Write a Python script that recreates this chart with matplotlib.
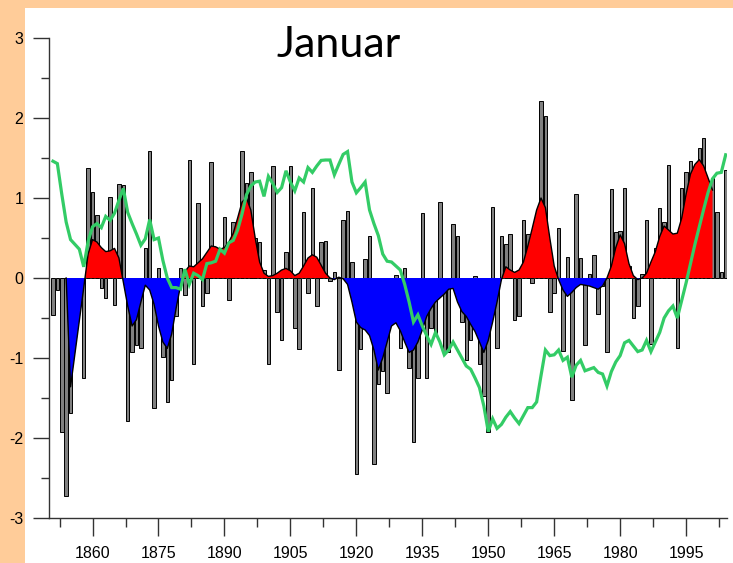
import numpy as np
import matplotlib
matplotlib.use("Agg")
import matplotlib.pyplot as plt
from matplotlib.patches import Rectangle
from matplotlib.ticker import MultipleLocator, FixedLocator

# yearly anomalies, 1851 .. 2004
anomaly = [
    -0.46, -0.15, -1.92, -2.73, -1.69, -0.60, -0.30, -1.25, 1.38, 1.07,   # 1851-1860
    0.79, -0.12, -0.25, 1.01, -0.34, 1.17, 1.16, -1.79, -0.92, -0.84,     # 1861-1870
    -0.87, 0.37, 1.59, -1.62, 0.12, -0.99, -1.55, -1.28, -0.47, 0.13,     # 1871-1880
    -0.21, 1.48, -1.08, 0.94, -0.35, -0.19, 1.45, 0.30, 0.30, 0.76,       # 1881-1890
    -0.28, 0.70, 0.50, 1.59, 1.19, 1.32, 0.50, 0.45, 0.10, -1.08,         # 1891-1900
    1.40, -0.43, -0.78, 0.33, 1.40, -0.62, -0.89, 0.83, -0.19, 1.13,      # 1901-1910
    -0.35, 0.45, 0.46, -0.04, 0.07, -1.15, 0.72, 0.84, 0.20, -2.45,       # 1911-1920
    -0.89, 0.24, 0.52, -2.33, -1.33, -1.16, -1.44, -0.50, 0.04, -0.88,    # 1921-1930
    0.12, -1.13, -2.05, -1.25, 0.81, -1.25, -0.63, -0.69, 0.95, -0.93,    # 1931-1940
    -0.92, 0.68, 0.52, -0.55, -1.02, -0.77, 0.03, -1.07, -1.48, -1.92,    # 1941-1950
    0.89, -0.87, 0.52, 0.42, 0.55, -0.52, -0.47, 0.72, 0.55, -0.06,       # 1951-1960
    0.50, 2.21, 2.03, -0.43, -0.19, 0.63, -0.91, 0.26, -1.53, 1.05,       # 1961-1970
    0.25, -0.84, 0.05, 0.29, -0.45, -0.10, -0.92, 1.11, 0.58, 0.59,       # 1971-1980
    1.12, 0.15, -0.50, -0.35, 0.05, 0.73, -0.82, 0.38, 0.87, 0.70,        # 1981-1990
    1.41, 0.40, -0.87, 1.13, 1.33, 1.46, 1.25, 1.62, 1.75, 0.90,          # 1991-2000
    1.25, 0.83, 0.08, 1.35,                                               # 2001-2004
]
first_year = 1851

# low-pass curve, 1854 .. 2001
smooth = [
    0.00, -1.36, -0.95, -0.54, -0.12, 0.30, 0.48,                         # 1854-1860
    0.45, 0.38, 0.33, 0.34, 0.37, 0.25, -0.05, -0.35, -0.60, -0.52,       # 1861-1870
    -0.30, -0.09, -0.15, -0.33, -0.60, -0.80, -0.88, -0.70, -0.38, -0.10, # 1871-1880
    0.08, 0.15, 0.14, 0.19, 0.24, 0.32, 0.40, 0.39, 0.36, 0.38,           # 1881-1890
    0.45, 0.56, 0.75, 0.95, 1.00, 0.85, 0.50, 0.20, 0.06, 0.02,           # 1891-1900
    0.03, 0.06, 0.10, 0.12, 0.09, 0.03, 0.06, 0.15, 0.25, 0.29,           # 1901-1910
    0.26, 0.16, 0.06, 0.00, -0.02, 0.01, -0.01, -0.08, -0.30, -0.55,      # 1911-1920
    -0.62, -0.65, -0.72, -0.90, -1.15, -1.00, -0.80, -0.60, -0.56, -0.66, # 1921-1930
    -0.80, -0.93, -0.90, -0.80, -0.65, -0.48, -0.38, -0.30, -0.25, -0.20, # 1931-1940
    -0.14, -0.13, -0.30, -0.42, -0.48, -0.58, -0.67, -0.80, -0.93, -0.78, # 1941-1950
    -0.55, -0.30, -0.02, 0.14, 0.10, 0.07, 0.10, 0.20, 0.40, 0.62,        # 1951-1960
    0.85, 1.00, 0.88, 0.50, 0.15, -0.02, -0.15, -0.23, -0.18, -0.12,      # 1961-1970
    -0.08, -0.09, -0.10, -0.12, -0.14, -0.10, 0.00, 0.15, 0.38, 0.54,     # 1971-1980
    0.43, 0.18, 0.03, -0.02, 0.00, 0.06, 0.20, 0.33, 0.52, 0.65,          # 1981-1990
    0.60, 0.55, 0.56, 0.75, 1.05, 1.30, 1.42, 1.48, 1.40, 1.25,           # 1991-2000
    1.10,                                                                 # 2001
]
smooth_first = 1854

# green line, 1851 .. 2004
green = [
    1.46, 1.43, 1.05, 0.70, 0.48, 0.42, 0.36, 0.14, 0.46, 0.64,           # 1851-1860
    0.68, 0.63, 0.77, 0.72, 0.81, 0.97, 1.12, 0.82, 0.68, 0.55,           # 1861-1870
    0.41, 0.49, 0.73, 0.48, 0.50, 0.22, 0.00, -0.12, -0.12, -0.14,        # 1871-1880
    0.11, -0.08, 0.06, 0.03, -0.02, 0.18, 0.19, 0.21, 0.36, 0.31,         # 1881-1890
    0.44, 0.47, 0.60, 0.80, 1.04, 1.15, 1.20, 1.21, 1.02, 1.27,           # 1891-1900
    1.18, 1.07, 1.13, 1.34, 1.20, 1.09, 1.25, 1.20, 1.38, 1.32,           # 1901-1910
    1.40, 1.47, 1.475, 1.475, 1.29, 1.42, 1.545, 1.58, 1.20, 1.065,       # 1911-1920
    1.13, 1.20, 0.85, 0.68, 0.53, 0.30, 0.21, 0.20, 0.15, 0.10,           # 1921-1930
    -0.08, -0.30, -0.55, -0.46, -0.60, -0.72, -0.83, -0.68, -0.80, -0.96, # 1931-1940
    -0.90, -0.80, -0.90, -1.00, -1.10, -1.14, -1.25, -1.37, -1.60, -1.92, # 1941-1950
    -1.76, -1.88, -1.83, -1.74, -1.67, -1.75, -1.82, -1.72, -1.62, -1.62, # 1951-1960
    -1.55, -1.22, -0.90, -0.97, -0.96, -0.90, -1.03, -0.99, -1.24, -1.09, # 1961-1970
    -1.03, -1.16, -1.14, -1.12, -1.18, -1.20, -1.35, -1.17, -1.05, -0.97, # 1971-1980
    -0.81, -0.78, -0.85, -0.92, -0.90, -0.78, -0.92, -0.80, -0.68, -0.50, # 1981-1990
    -0.41, -0.35, -0.50, -0.28, -0.06, 0.18, 0.42, 0.64, 0.86, 1.07,      # 1991-2000
    1.24, 1.31, 1.32, 1.54,                                               # 2001-2004
]

title = "Januar"
major_years = list(range(1860, 2000, 15))


def main():
    plt.rcParams["font.family"] = ["Liberation Sans", "DejaVu Sans"]
    plt.rcParams["axes.unicode_minus"] = False

    years = np.arange(first_year, first_year + len(anomaly))
    s_years = np.arange(smooth_first, smooth_first + len(smooth))
    s = np.array(smooth)

    fig = plt.figure(figsize=(7.33, 5.63), dpi=100, facecolor="#FFCC99")
    # white sheet on the peach background
    fig.add_artist(Rectangle((25 / 733, 0), 1 - 25 / 733, 1 - 8 / 563,
                             transform=fig.transFigure, facecolor="white",
                             edgecolor="none", zorder=-10))

    ax = fig.add_axes([49 / 733, 45 / 563, 678 / 733, 480 / 563])
    ax.patch.set_alpha(0)

    ax.bar(years, anomaly, width=0.8, color="#808080", edgecolor="black",
           linewidth=0.7, zorder=2)

    ax.fill_between(s_years, s, 0, where=s >= 0, interpolate=True,
                    color="#FF0000", linewidth=0, zorder=3)
    ax.fill_between(s_years, s, 0, where=s <= 0, interpolate=True,
                    color="#0000FF", linewidth=0, zorder=3)
    ax.plot(s_years, s, color="black", linewidth=1.0, zorder=4)

    ax.plot(years, green, color="#33CC66", linewidth=2.3, zorder=5,
            solid_joinstyle="miter")

    ax.set_xlim(1850.1, 2004.3)
    ax.set_ylim(-3, 3)

    for side in ("top", "right"):
        ax.spines[side].set_visible(False)
    for side in ("left", "bottom"):
        ax.spines[side].set_color("#333333")
        ax.spines[side].set_linewidth(1.0)

    ax.yaxis.set_major_locator(MultipleLocator(1))
    ax.yaxis.set_minor_locator(MultipleLocator(0.5))
    ax.xaxis.set_major_locator(FixedLocator(major_years))
    ax.xaxis.set_minor_locator(FixedLocator([y - 7.5 for y in major_years] + [2002.5]))

    ax.tick_params(axis="y", which="major", length=11.5, width=1.0, color="#333333",
                   labelsize=11.5, pad=7)
    ax.tick_params(axis="y", which="minor", length=6, width=1.0, color="#333333")
    ax.tick_params(axis="x", which="major", length=13, width=1.0, color="#333333",
                   labelsize=11.5, pad=7)
    ax.tick_params(axis="x", which="minor", length=6.5, width=1.0, color="#333333")

    fig.text(338.5 / 733, 1 - 45 / 563, title, fontsize=31, fontweight="normal",
             ha="center", va="center", family=["Lato", "DejaVu Sans"])

    fig.savefig("out.png", dpi=100, facecolor=fig.get_facecolor())


if __name__ == "__main__":
    main()
